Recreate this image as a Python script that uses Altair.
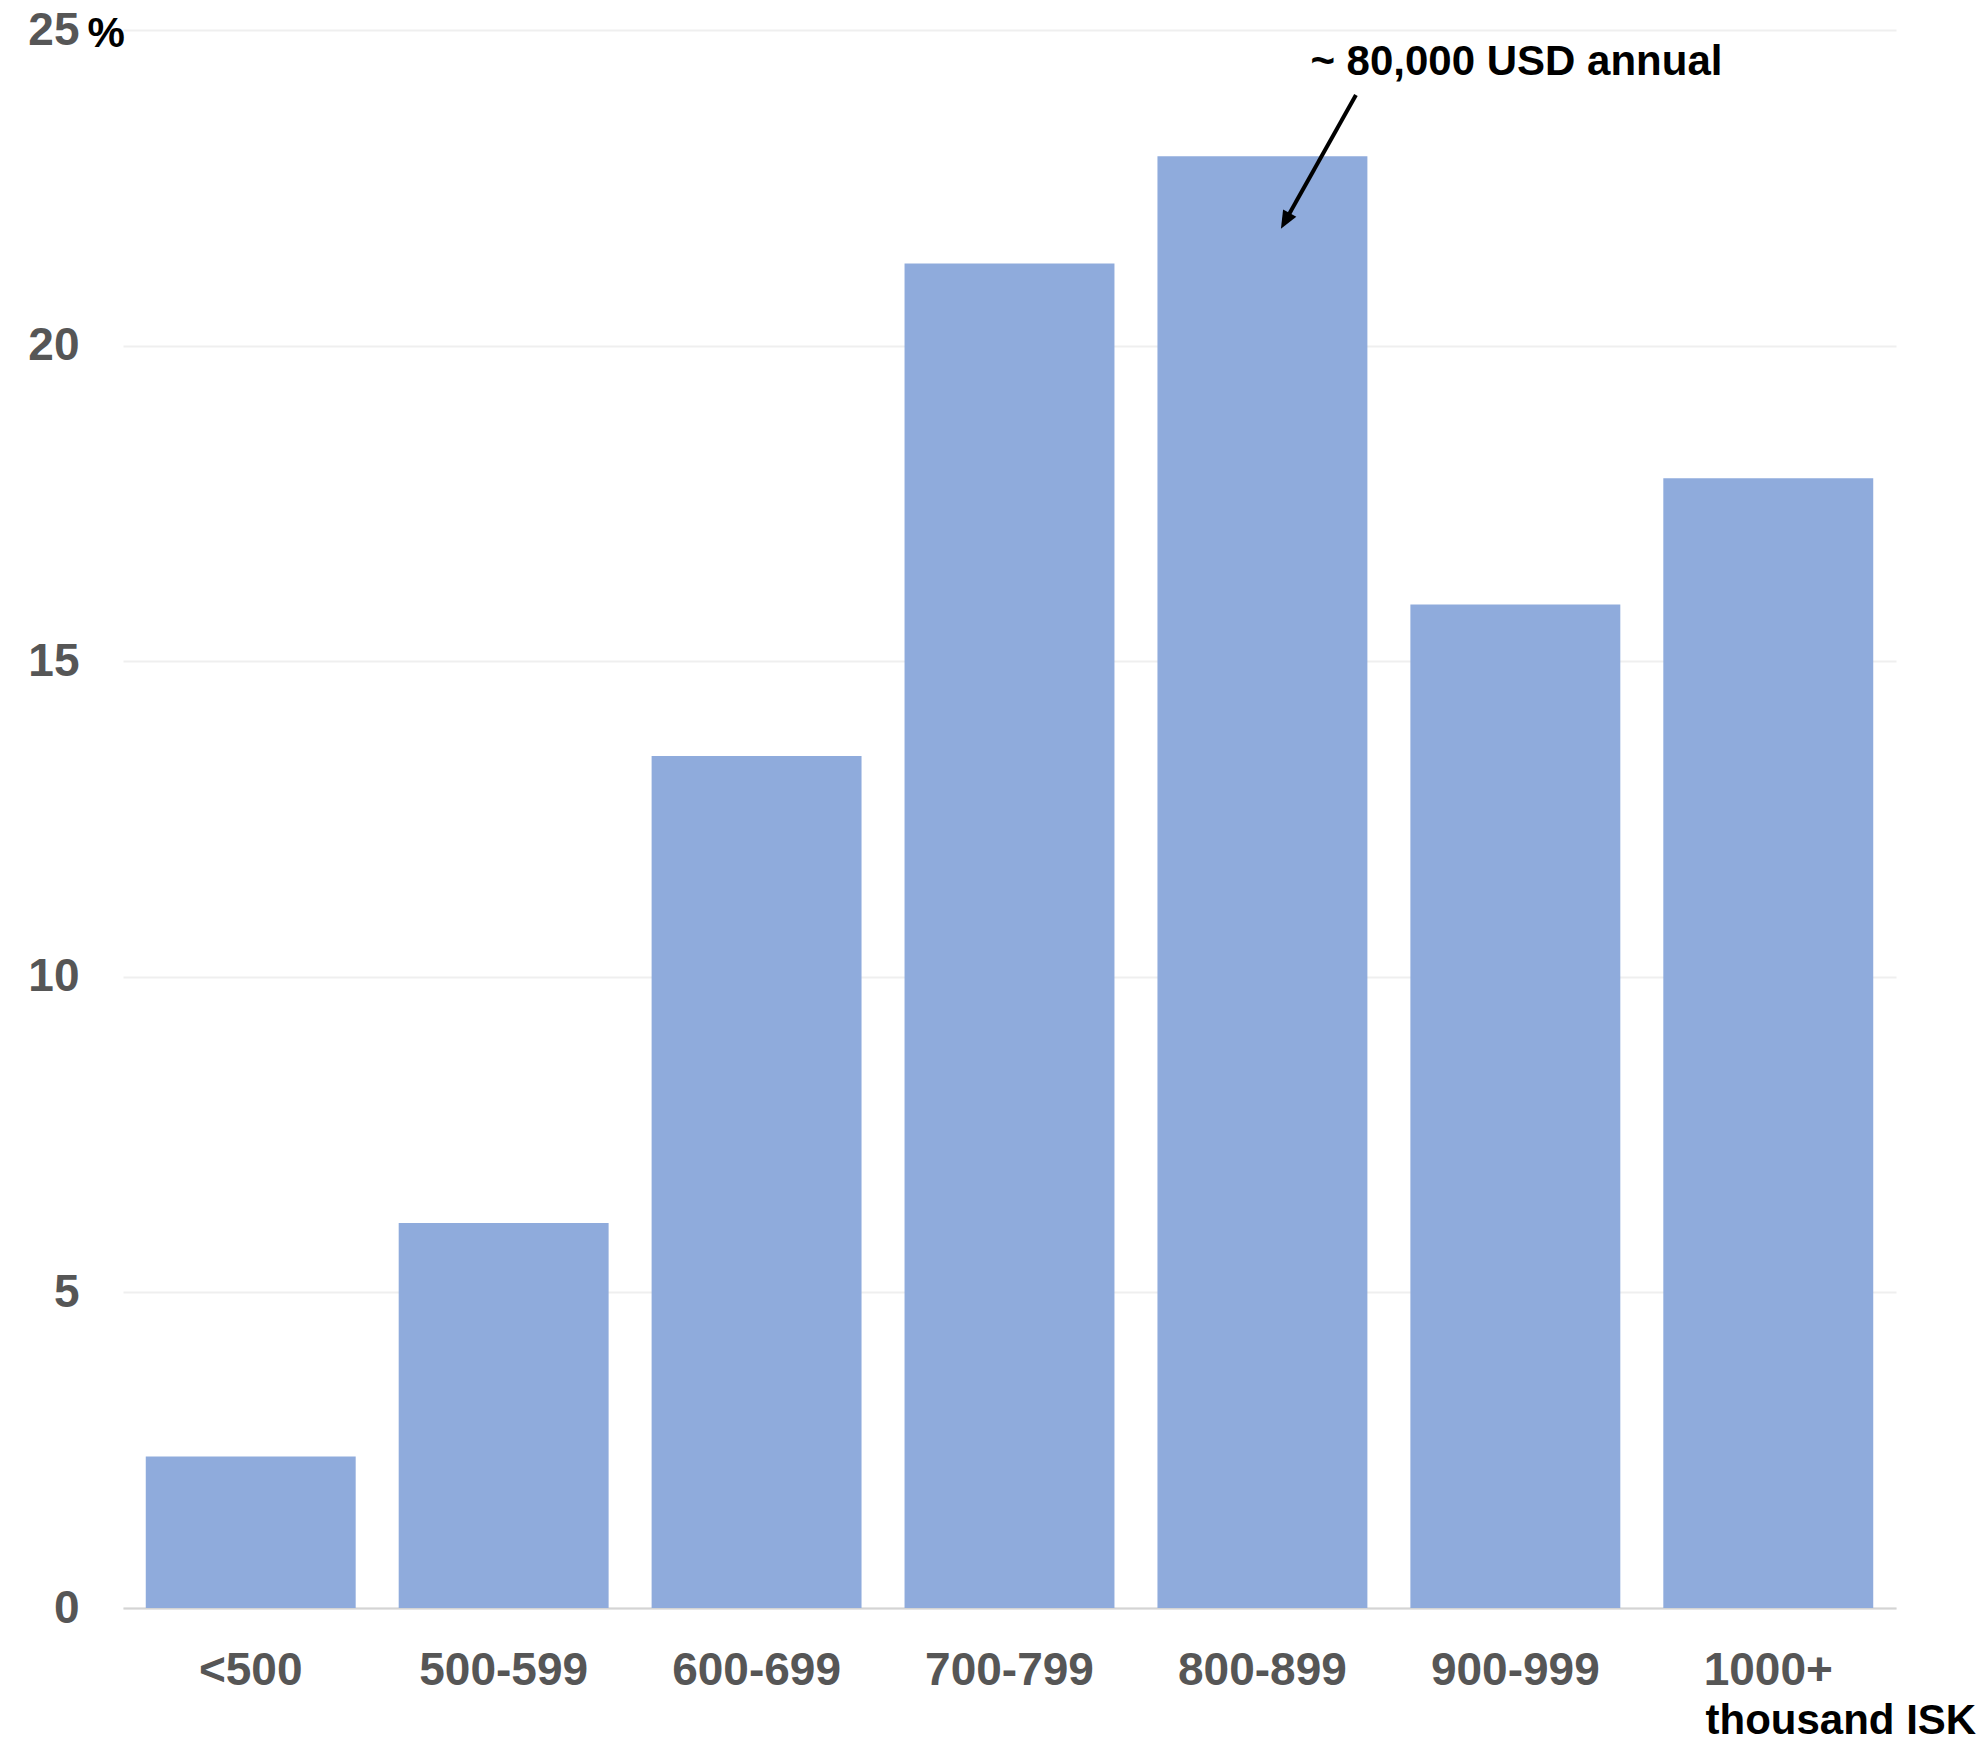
import altair as alt
import pandas as pd

categories = ["<500", "500-599", "600-699", "700-799", "800-899", "900-999", "1000+"]
shares = [2.4, 6.1, 13.5, 21.3, 23.0, 15.9, 17.9]
y_ticks = [0, 5, 10, 15, 20, 25]

# annotation (data coordinates)
note_text = ["~ 80,000 USD annual"]
note_cat = ["800-899"]
note_y = [24.5]
arrow_cat = ["800-899"]
arrow_tail_y = [23.97]
arrow_end_y = [22.02]
arrow_tip_y = [21.85]

FONT = "Liberation Sans"
BAR = "#8FABDC"

bars_df = pd.DataFrame({"cat": categories, "share": shares})
note_df = pd.DataFrame({"cat": note_cat, "y": note_y, "label": note_text})
arrow_df = pd.DataFrame({"cat": arrow_cat, "y": arrow_tail_y, "y2": arrow_end_y})
tip_df = pd.DataFrame({"cat": arrow_cat, "y": arrow_tip_y})

x_enc = alt.X(
    "cat:N",
    sort=categories,
    scale=alt.Scale(paddingInner=0.17, paddingOuter=0.09),
    axis=alt.Axis(
        title="thousand ISK",
        titleX=1582,
        titleY=112,
        titleAlign="left",
        titleBaseline="middle",
        titleAngle=0,
        titleFont=FONT,
        titleFontSize=42,
        titleFontWeight="bold",
        titleColor="#000000",
        labelAngle=0,
        labelFont=FONT,
        labelFontSize=46,
        labelFontWeight="bold",
        labelColor="#565656",
        labelPadding=40,
        ticks=False,
        domainColor="#d4d4d4",
        domainWidth=2,
        grid=False,
    ),
)

y_scale = alt.Scale(domain=[0, 25], nice=False)
y_axis = alt.Axis(
    values=y_ticks,
    format="d",
    title="%",
    titleAngle=0,
    titleAlign="left",
    titleBaseline="middle",
    titleX=-36,
    titleY=3,
    titleFont=FONT,
    titleFontSize=42,
    titleFontWeight="bold",
    titleColor="#000000",
    labelFont=FONT,
    labelFontSize=46,
    labelFontWeight="bold",
    labelColor="#565656",
    labelPadding=44,
    ticks=False,
    domain=False,
    grid=True,
    gridColor="#efefef",
    gridWidth=2,
)

bars = alt.Chart(bars_df).mark_bar(color=BAR).encode(
    x=x_enc,
    y=alt.Y("share:Q", scale=y_scale, axis=y_axis),
)

note = alt.Chart(note_df).mark_text(
    font=FONT, fontSize=42, fontWeight="bold", color="#000000",
    align="left", baseline="middle", dx=48,
).encode(
    x=alt.X("cat:N", sort=categories),
    y=alt.Y("y:Q", scale=y_scale),
    text="label:N",
)

arrow = alt.Chart(arrow_df).mark_rule(
    color="#000000", strokeWidth=4, xOffset=93.5, x2Offset=24.5,
).encode(
    x=alt.X("cat:N", sort=categories),
    x2="cat:N",
    y=alt.Y("y:Q", scale=y_scale),
    y2="y2:Q",
)

tip = alt.Chart(tip_df).mark_point(
    shape="M0,0L-0.42,1L0.42,1Z",
    filled=True,
    color="#000000",
    opacity=1,
    size=1300,
    angle=209.2,
    xOffset=18.5,
    strokeWidth=0,
).encode(
    x=alt.X("cat:N", sort=categories),
    y=alt.Y("y:Q", scale=y_scale),
)

chart = (
    alt.layer(bars, arrow, tip, note)
    .properties(
        width=1773,
        height=1578,
        autosize=alt.AutoSizeParams(type="none"),
        padding={"left": 115, "top": 22, "right": 84, "bottom": 128},
        view=alt.ViewBackground(stroke=None, strokeWidth=0),
    )
    .configure_view(stroke=None, strokeWidth=0)
    .configure_axisX(grid=False)
    .configure(background="#ffffff")
)

chart.save("out.html", embed_options={"renderer": "svg", "actions": False})
